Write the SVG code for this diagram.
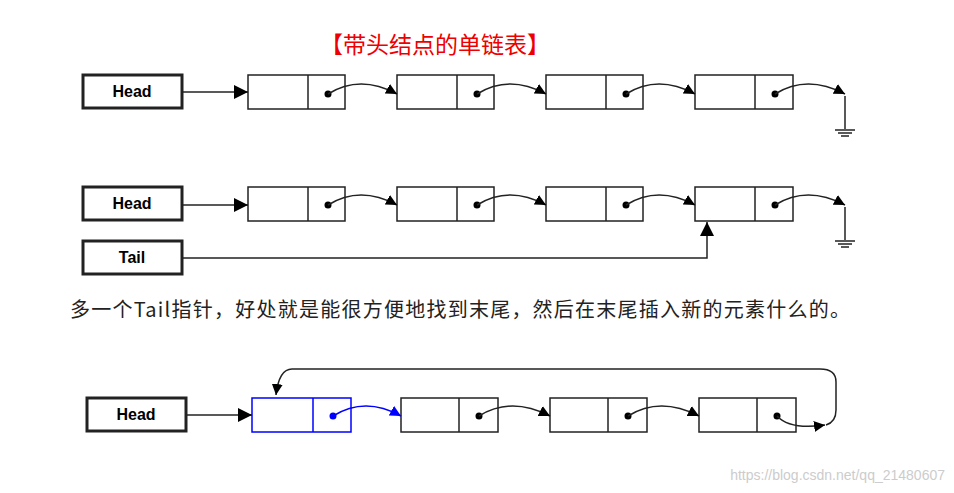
<svg xmlns="http://www.w3.org/2000/svg" width="954" height="493" viewBox="0 0 954 493">
<defs>
<marker id="a" viewBox="0 0 10 10" refX="10" refY="5" markerWidth="11" markerHeight="11" orient="auto" markerUnits="userSpaceOnUse"><path d="M0,0 L10,5 L0,10 z" fill="#000"/></marker>
<marker id="ab" viewBox="0 0 10 10" refX="10" refY="5" markerWidth="11" markerHeight="11" orient="auto" markerUnits="userSpaceOnUse"><path d="M0,0 L10,5 L0,10 z" fill="#00f"/></marker>
<marker id="al" viewBox="0 0 10 10" refX="10" refY="5" markerWidth="14" markerHeight="14" orient="auto" markerUnits="userSpaceOnUse"><path d="M0,0 L10,5 L0,10 z" fill="#000"/></marker>
</defs>
<style>
.hb{fill:#fff;stroke:#222;stroke-width:3}
.nb{fill:#fff;stroke:#222;stroke-width:1.5}
.bl{fill:#fff;stroke:#00f;stroke-width:1.5}
.t{font-family:"Liberation Sans",Arial,sans-serif;font-weight:bold;font-size:16px;text-anchor:middle}
.c{fill:none;stroke:#222;stroke-width:1.5}
.g{stroke:#222;stroke-width:1.5}
</style>
<rect width="954" height="493" fill="#fff"/>
<text x="435" y="53" font-family="'Noto Sans CJK SC',sans-serif" font-size="23" fill="#e00" text-anchor="middle">【带头结点的单链表】</text>
<g id="r1">
<g id="h1"><rect class="hb" x="83" y="75" width="99" height="33"/><text class="t" x="132" y="97">Head</text></g>
<g id="n1a"><rect class="nb" x="248" y="75" width="97" height="34"/><line class="g" x1="308" y1="75" x2="308" y2="109"/><circle cx="328" cy="94" r="3.5"/></g>
<g id="n1b"><rect class="nb" x="397" y="75" width="97" height="34"/><line class="g" x1="457" y1="75" x2="457" y2="109"/><circle cx="477" cy="94" r="3.5"/></g>
<g id="n1c"><rect class="nb" x="546" y="75" width="97" height="34"/><line class="g" x1="606" y1="75" x2="606" y2="109"/><circle cx="626" cy="94" r="3.5"/></g>
<g id="n1d"><rect class="nb" x="695" y="75" width="98" height="34"/><line class="g" x1="755" y1="75" x2="755" y2="109"/><circle cx="775" cy="94" r="3.5"/></g>
<g id="gnd1"><line class="g" x1="845" y1="96" x2="845" y2="129"/><line class="g" x1="835" y1="130" x2="855" y2="130"/><line class="g" x1="838" y1="133" x2="852" y2="133"/><line class="g" x1="841" y1="136" x2="849" y2="136"/></g>
</g>
<g id="r2">
<g id="h2"><rect class="hb" x="83" y="187" width="99" height="33"/><text class="t" x="132" y="209">Head</text></g>
<g id="tail"><rect class="hb" x="83" y="241" width="99" height="33"/><text class="t" x="132" y="263">Tail</text></g>
<g id="n2a"><rect class="nb" x="248" y="187" width="97" height="34"/><line class="g" x1="308" y1="187" x2="308" y2="221"/><circle cx="328" cy="205" r="3.5"/></g>
<g id="n2b"><rect class="nb" x="397" y="187" width="97" height="34"/><line class="g" x1="457" y1="187" x2="457" y2="221"/><circle cx="477" cy="205" r="3.5"/></g>
<g id="n2c"><rect class="nb" x="546" y="187" width="97" height="34"/><line class="g" x1="606" y1="187" x2="606" y2="221"/><circle cx="626" cy="205" r="3.5"/></g>
<g id="n2d"><rect class="nb" x="695" y="187" width="98" height="34"/><line class="g" x1="755" y1="187" x2="755" y2="221"/><circle cx="775" cy="205" r="3.5"/></g>
<g id="gnd2"><line class="g" x1="845" y1="207" x2="845" y2="240"/><line class="g" x1="835" y1="241" x2="855" y2="241"/><line class="g" x1="838" y1="244" x2="852" y2="244"/><line class="g" x1="841" y1="247" x2="849" y2="247"/></g>
</g>
<text x="70" y="317" font-family="'Noto Sans CJK SC',sans-serif" font-size="20" fill="#222" textLength="780" lengthAdjust="spacing">多一个Tail指针，好处就是能很方便地找到末尾，然后在末尾插入新的元素什么的。</text>
<g id="r3">
<g id="h3"><rect class="hb" x="87" y="398" width="99" height="33"/><text class="t" x="136" y="420">Head</text></g>
<g id="n3a"><rect class="bl" x="252" y="398" width="99" height="34"/><line stroke="#00f" stroke-width="1.5" x1="313" y1="398" x2="313" y2="432"/><circle cx="333" cy="416" r="3.5" fill="#00f"/></g>
<g id="n3b"><rect class="nb" x="401" y="398" width="97" height="34"/><line class="g" x1="459" y1="398" x2="459" y2="432"/><circle cx="479" cy="416" r="3.5"/></g>
<g id="n3c"><rect class="nb" x="550" y="398" width="97" height="34"/><line class="g" x1="608" y1="398" x2="608" y2="432"/><circle cx="628" cy="416" r="3.5"/></g>
<g id="n3d"><rect class="nb" x="699" y="398" width="97" height="34"/><line class="g" x1="757" y1="398" x2="757" y2="432"/><circle cx="777" cy="416" r="3.5"/></g>
</g>
<g id="connectors">
<line class="c" x1="182" y1="92" x2="248" y2="92" marker-end="url(#al)"/>
<path class="c" d="M328,94 Q360,74 397,94" marker-end="url(#a)"/>
<path class="c" d="M477,94 Q509,74 546,94" marker-end="url(#a)"/>
<path class="c" d="M626,94 Q658,74 695,94" marker-end="url(#a)"/>
<path class="c" d="M775,94 Q807,74 845,94" marker-end="url(#a)"/>
<line class="c" x1="182" y1="205" x2="248" y2="205" marker-end="url(#al)"/>
<path class="c" d="M328,205 Q360,185 397,205" marker-end="url(#a)"/>
<path class="c" d="M477,205 Q509,185 546,205" marker-end="url(#a)"/>
<path class="c" d="M626,205 Q658,185 695,205" marker-end="url(#a)"/>
<path class="c" d="M775,205 Q807,185 845,205" marker-end="url(#a)"/>
<path class="c" d="M182,258 H707 V222" marker-end="url(#al)"/>
<line class="c" x1="186" y1="415" x2="252" y2="415" marker-end="url(#al)"/>
<path fill="none" stroke="#00f" stroke-width="1.5" d="M333,416 Q365,396 401,416" marker-end="url(#ab)"/>
<path class="c" d="M479,416 Q511,396 550,416" marker-end="url(#a)"/>
<path class="c" d="M628,416 Q660,396 699,416" marker-end="url(#a)"/>
<path class="c" d="M777,416 Q790,430 825,425" marker-end="url(#a)"/>
<path class="c" d="M826,425 Q836,422 836,410 V382 Q836,369 820,369 H292 Q279,369 276,395" marker-end="url(#a)"/>
</g>
<text x="945" y="480" font-family="'Liberation Sans',sans-serif" font-size="14" fill="#ccc" text-anchor="end">https://blog.csdn.net/qq_21480607</text>
</svg>
